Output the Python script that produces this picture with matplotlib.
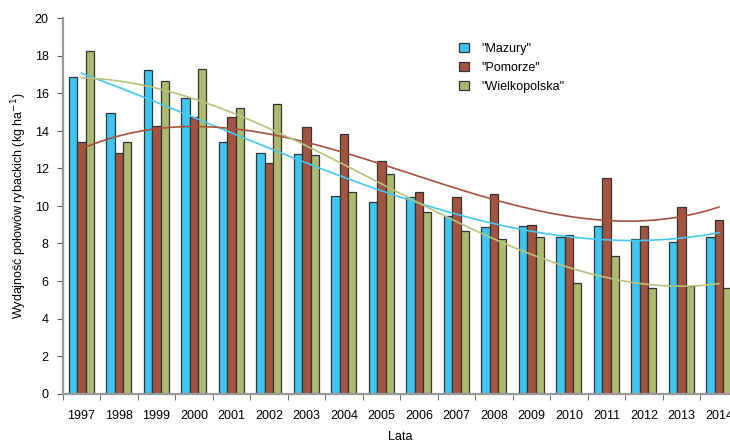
import numpy as np
import matplotlib
matplotlib.use("Agg")
import matplotlib.pyplot as plt

plt.rcParams['font.family'] = ['Liberation Sans Narrow', 'Liberation Sans', 'DejaVu Sans']

years = [str(y) for y in range(1997, 2015)]
mazury = [16.9, 14.98, 17.25, 15.74, 13.41, 12.81, 12.76, 10.55, 10.2, 10.48,
          9.48, 8.87, 8.93, 8.36, 8.93, 8.24, 8.06, 8.35]
pomorze = [13.41, 12.81, 14.27, 14.73, 14.73, 12.28, 14.2, 13.84, 12.4, 10.73,
           10.48, 10.62, 9.0, 8.43, 11.51, 8.93, 9.95, 9.24]
wielkopolska = [18.27, 13.41, 16.65, 17.31, 15.21, 15.46, 12.7, 10.73, 11.69, 9.66,
                8.65, 8.24, 8.36, 5.91, 7.33, 5.61, 5.73, 5.61]

series = [
    ('"Mazury"', mazury, '#3ec6f0', '#45c8f2'),
    ('"Pomorze"', pomorze, '#a35441', '#a9503c'),
    ('"Wielkopolska"', wielkopolska, '#adb96e', '#b9c27a'),
]

fig = plt.figure(figsize=(7.30, 4.44), dpi=100)
# the plot area runs a little past the right edge of the figure
ax = fig.add_axes([62.7 / 730, 50.5 / 444, 675 / 730, 375 / 444])

x = np.arange(len(years))
w = 0.222
for i, (name, vals, col, tcol) in enumerate(series):
    ax.bar(x + (i - 1) * w, vals, width=w, color=col, edgecolor='#333333',
           linewidth=0.9, label=name, zorder=2)

# cubic trend lines
xs = np.linspace(0, len(years) - 1, 200)
for name, vals, col, tcol in series:
    coef = np.polyfit(x, vals, 3)
    ax.plot(xs, np.polyval(coef, xs), color=tcol, linewidth=1.2, zorder=3)

ax.set_xlim(-0.5, len(years) - 0.5)
ax.set_ylim(0, 20)
ax.set_yticks(range(0, 21, 2))
ax.set_xticks(x)
ax.set_xticklabels(years)
ax.set_xticks(np.arange(-0.5, len(years), 1), minor=True)
ax.tick_params(axis='x', which='major', length=0, pad=12, labelsize=9)
ax.tick_params(axis='x', which='minor', length=4, color='#555555', direction='out')
ax.tick_params(axis='y', length=4, color='#555555', labelsize=9, pad=6)

for side in ['top', 'right']:
    ax.spines[side].set_visible(False)
for side in ['left', 'bottom']:
    ax.spines[side].set_color('#999999')
    ax.spines[side].set_linewidth(1.6)

ax.set_ylabel('Wydajność połowów rybackich (kg ha$^{-1}$)', fontsize=9, labelpad=4)
ax.set_xlabel('Lata', fontsize=9, labelpad=6)

ax.legend(loc='upper left', bbox_to_anchor=(0.57, 0.965), frameon=False,
          fontsize=9, handlelength=0.8, handleheight=0.8, labelspacing=0.55,
          handletextpad=1.0)

fig.savefig('out.png', dpi=100)
